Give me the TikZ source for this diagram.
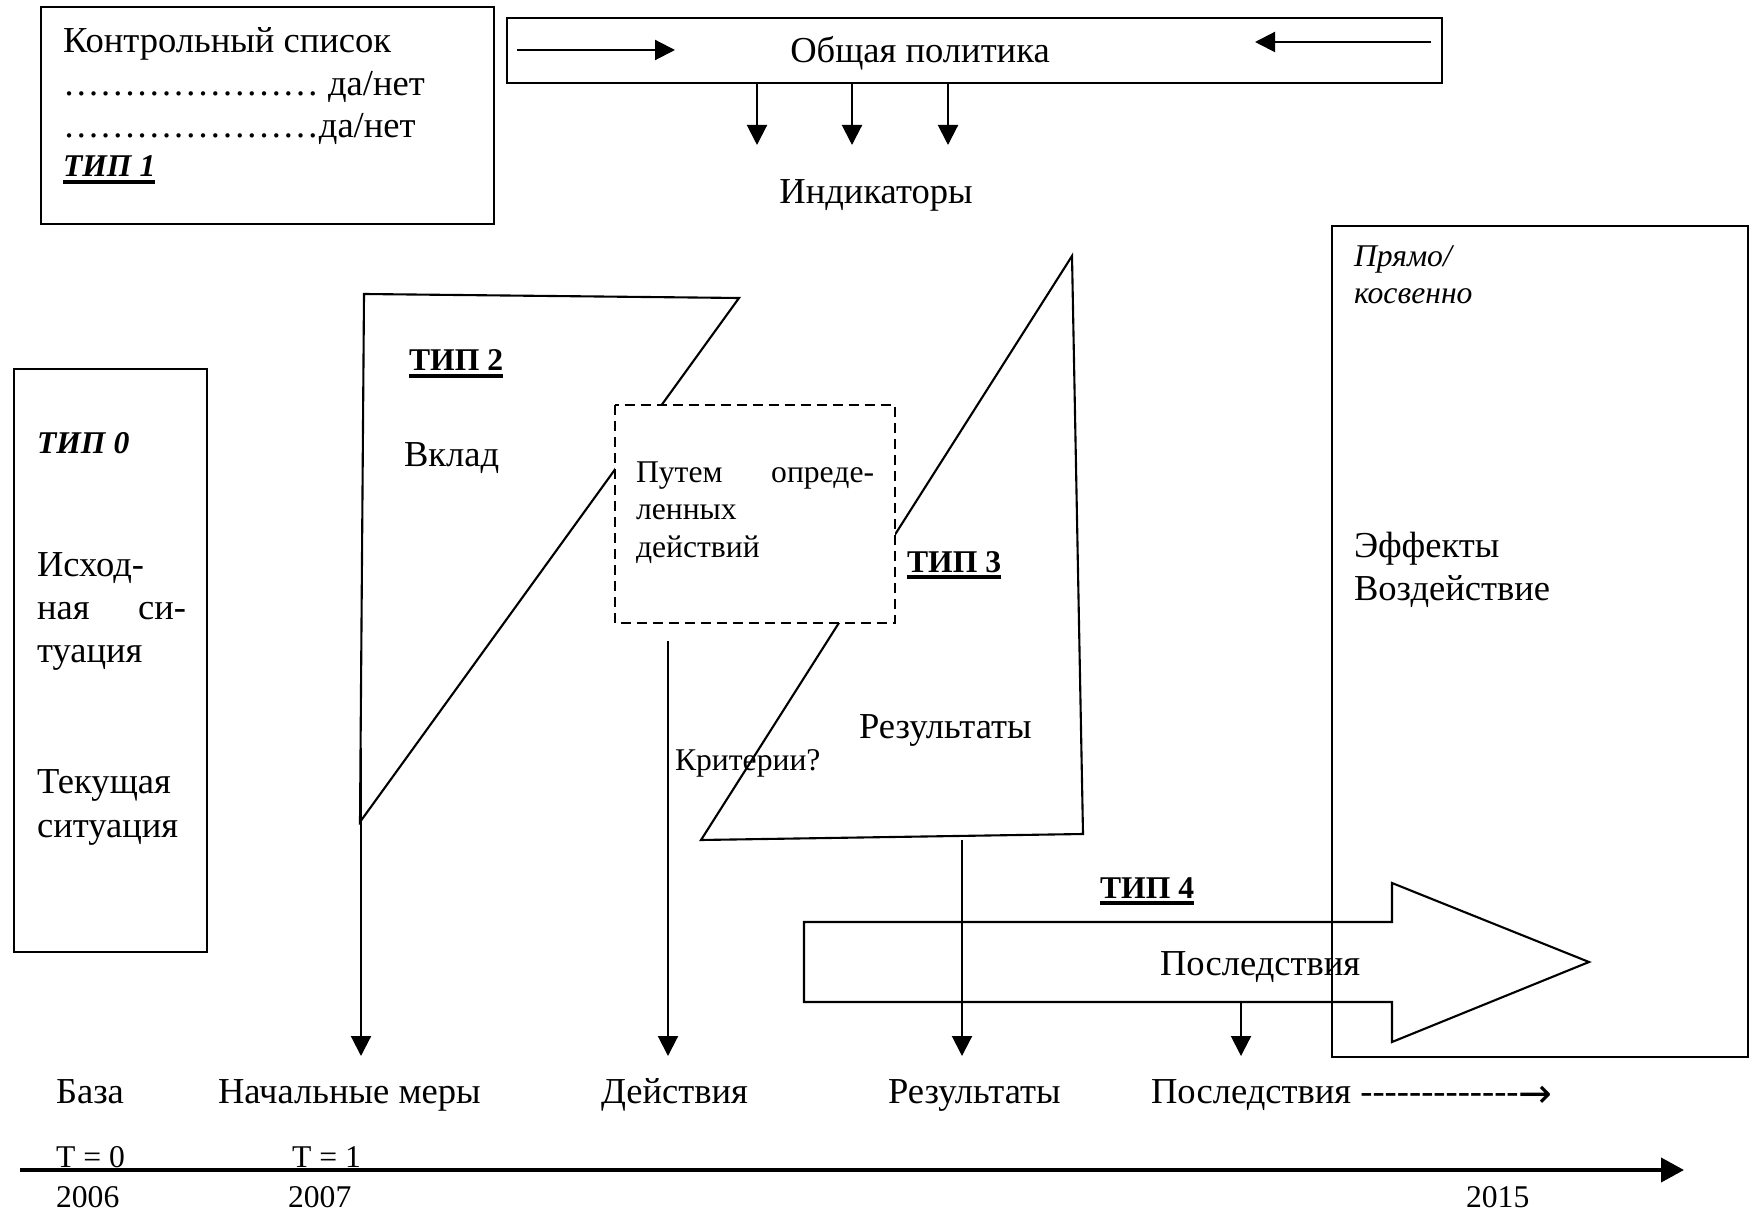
\documentclass[tikz,border=0pt]{standalone}
\usepackage{fontspec}
\setmainfont{Liberation Serif}
\newfontfamily\arrowfont{DejaVu Sans}
\usetikzlibrary{arrows.meta}

\newsavebox{\tipbox}
\newcommand{\tipul}[1]{\sbox{\tipbox}{#1}\rlap{\rule[-1.9pt]{\wd\tipbox}{1.1pt}}\usebox{\tipbox}}

\tikzset{
	txt/.style={inner sep=0pt, anchor=base west, font=\fontsize{10.4}{12.5}\selectfont},
	small/.style={txt, font=\fontsize{9}{10.5}\selectfont},
	smallit/.style={txt, font=\fontsize{9}{10.5}\selectfont\itshape},
	tiplabel/.style={txt, font=\fontsize{9}{10.5}\selectfont\bfseries},
	tipit/.style={txt, font=\fontsize{9}{10.5}\selectfont\bfseries\itshape},
	down/.style={-{Triangle[length=2mm,width=2mm]}},
	dashbox/.style={dash pattern=on 1mm off 0.6mm, fill=white},
}

\begin{document}
\begin{tikzpicture}[x=0.1mm, y=-0.1mm, line width=0.6pt]
	\useasboundingbox (0,0) rectangle (1754,1212);
	
	% type 1: check list
	\draw (41,7) rectangle (494,224);
	\node[txt] (chk) at (62,53) {Контрольный список};
	\node[txt] (chk1) at (62,96) {………………… да/нет};
	\node[txt] (chk2) at (62,138) {…………………да/нет};
	\node[tipit] (t1) at (62,177) {\tipul{ТИП 1}};
	
	% general policy
	\draw (507,18) rectangle (1442,83);
	\node[txt, anchor=base] (policy) at (920,63) {Общая политика};
	\coordinate (pl1) at (517,50);
	\coordinate (pl2) at (675,50);
	\coordinate (pr1) at (1431,42);
	\coordinate (pr2) at (1255,42);
	\draw[down] (pl1) -- (pl2);
	\draw[down] (pr1) -- (pr2);
	\foreach \x [count=\i] in {757,852,948} {
		\coordinate (ind\i) at (\x,83);
		\coordinate (indtip\i) at (\x,145);
		\draw[down] (ind\i) -- (indtip\i);
	}
	\node[txt, anchor=base] (indic) at (876,204) {Индикаторы};
	
	% type 0
	\draw (14,369) rectangle (207,952);
	\node[tipit] (t0) at (36,454) {ТИП 0};
	\node[txt] (start1) at (36,577) {Исход-};
	\node[txt] (start2) at (36,619) {\hbox to 14.9mm{ная\hfill си-}};
	\node[txt] (start3) at (36,663) {туация};
	\node[txt] (cur1) at (36,793) {Текущая};
	\node[txt] (cur2) at (36,837) {ситуация};
	
	% type 2
	\draw (364,294) -- (739,298) -- (360,822) -- cycle;
	\node[tiplabel] (t2) at (408,371) {\tipul{ТИП 2}};
	\node[txt] (input) at (403,467) {Вклад};
	
	% type 3
	\draw (1072,256) -- (1083,834) -- (701,840) -- cycle;
	\node[tiplabel] (t3) at (906,572) {\tipul{ТИП 3}};
	\node[txt] (res) at (858,738) {Результаты};
	
	% actions box
	\draw[dashbox] (615,405) rectangle (895,623);
	\node[small] (way1) at (635,483) {\hbox to 23.8mm{Путем\hfill опреде-}};
	\node[small] (way2) at (635,520) {ленных};
	\node[small] (way3) at (635,557) {действий};
	\node[small] (crit) at (674,770) {Критерии?};
	
	% type 4
	\draw (804,922) -- (1392,922) -- (1392,883) -- (1589,962) -- (1392,1042) -- (1392,1002) -- (804,1002) -- cycle;
	\node[tiplabel] (t4) at (1099,898) {\tipul{ТИП 4}};
	\node[txt] (cons) at (1159,975) {Последствия};
	
	% effects
	\draw (1332,226) rectangle (1748,1057);
	\node[smallit] (dir1) at (1353,267) {Прямо/};
	\node[smallit] (dir2) at (1353,304) {косвенно};
	\node[txt] (eff1) at (1353,557) {Эффекты};
	\node[txt] (eff2) at (1353,601) {Воздействие};
	
	% arrows down to the stages
	\foreach \n/\x/\y in {init/361/748, act/668/641, out/962/840, post/1241/1002} {
		\coordinate (top-\n) at (\x,\y);
		\coordinate (tip-\n) at (\x,1056);
		\draw[down] (top-\n) -- (tip-\n);
	}
	
	\node[txt] (base) at (55,1103) {База};
	\node[txt] (initial) at (217,1103) {Начальные меры};
	\node[txt] (action) at (600,1103) {Действия};
	\node[txt] (result) at (887,1103) {Результаты};
	\node[txt] (after) at (1150,1103) {Последствия -{}-{}-{}-{}-{}-{}-{}-{}-{}-{}-{}-{}-{}\raisebox{-1.2pt}{\arrowfont\fontsize{11.5}{12}\selectfont→}};
	
	% time axis
	\coordinate (axis-start) at (20,1170);
	\coordinate (axis-end) at (1684,1170);
	\draw[line width=1.1pt, -{Triangle[length=2.3mm,width=2.4mm]}] (axis-start) -- (axis-end);
	\node[small] (tzero) at (55,1167) {T = 0};
	\node[small] (tone) at (291,1167) {T = 1};
	\node[small] (y2006) at (55,1207) {2006};
	\node[small] (y2007) at (287,1207) {2007};
	\node[small] (y2015) at (1465,1207) {2015};
\end{tikzpicture}
\end{document}
